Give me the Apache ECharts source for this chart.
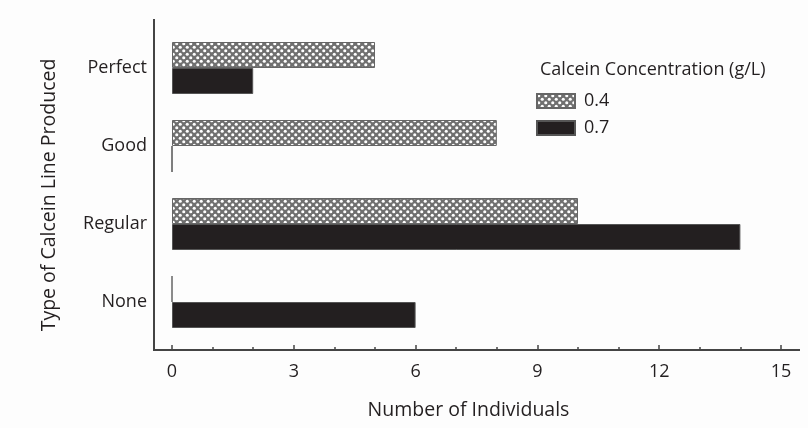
<!DOCTYPE html>
<html>
<head>
<meta charset="utf-8">
<script src="https://cdn.jsdelivr.net/npm/echarts@6/dist/echarts.min.js"></script>
<style>
html,body{margin:0;padding:0;background:#fdfdfd;}
#chart{width:808px;height:428px;}
</style>
</head>
<body>
<div id="chart"></div>
<script>
const categories = ['Perfect', 'Good', 'Regular', 'None'];
const seriesNames = ['0.4', '0.7'];
const values04 = [5, 8, 10, 0];
const values07 = [2, 0, 14, 6];
const xTicks = [0, 3, 6, 9, 12, 15];
const yTitle = 'Type of Calcein Line Produced';

function makePattern() {
  const c = document.createElement('canvas');
  c.width = 7; c.height = 7;
  const g = c.getContext('2d');
  g.fillStyle = '#707070';
  g.fillRect(0, 0, 7, 7);
  g.fillStyle = '#ffffff';
  const pts = [[1.75, 1.75], [5.25, 5.25]];
  pts.forEach(p => { g.beginPath(); g.arc(p[0], p[1], 1.55, 0, Math.PI * 2); g.fill(); });
  return c;
}
const pattern = { image: makePattern(), repeat: 'repeat' };

const font = "'Open Sans', 'Noto Sans', sans-serif";
const txt = '#231f20';

const chart = echarts.init(document.getElementById('chart'));
chart.setOption({
  backgroundColor: '#fdfdfd',
  animation: false,
  textStyle: { fontFamily: font, color: txt },
  title: {
    text: 'Calcein Concentration (g/L)',
    left: 535, top: 56,
    textStyle: { fontFamily: font, fontSize: 18, fontWeight: 'normal', color: txt }
  },
  legend: {
    orient: 'vertical',
    left: 531, top: 87,
    icon: 'rect',
    itemWidth: 38, itemHeight: 14, itemGap: 9,
    data: seriesNames,
    textStyle: { fontFamily: font, fontSize: 18, color: txt, padding: [0, 0, 0, 4] }
  },
  grid: { left: 172, right: 27, top: 29, bottom: 87, containLabel: false },
  xAxis: {
    type: 'value', min: xTicks[0], max: xTicks[xTicks.length - 1], interval: 3,
    offset: 9,
    name: 'Number of Individuals', nameLocation: 'middle', nameGap: 50,
    nameTextStyle: { fontFamily: font, fontSize: 19.5, color: txt, padding: [0, 16, 0, 0] },
    axisLine: { show: false },
    axisTick: { show: true, inside: true, length: 5, lineStyle: { color: '#444', width: 1.5 } },
    minorTick: { show: true, splitNumber: 3, length: 3, lineStyle: { color: '#444', width: 1.5 } },
    splitLine: { show: false },
    axisLabel: { fontFamily: font, fontSize: 18, color: txt, margin: 13 }
  },
  yAxis: {
    type: 'category', data: categories, inverse: true,
    axisLine: { show: false },
    axisTick: { show: false },
    axisLabel: { fontFamily: font, fontSize: 18, color: txt, margin: 25 }
  },
  graphic: [
    { type: 'line', shape: { x1: 154, y1: 19, x2: 154, y2: 351 }, style: { stroke: '#444', lineWidth: 2 } },
    { type: 'line', shape: { x1: 153, y1: 350, x2: 800, y2: 350 }, style: { stroke: '#444', lineWidth: 2 } },
    { type: 'text', x: 49, y: 195, rotation: Math.PI / 2,
      style: { text: yTitle, align: 'center', verticalAlign: 'middle', fill: txt,
               font: "19.5px 'Open Sans', 'Noto Sans', sans-serif" } }
  ],
  series: [
    {
      name: seriesNames[0], type: 'bar', data: values04,
      barWidth: 26, barGap: '0%',
      itemStyle: { color: pattern, borderColor: '#666', borderWidth: 1 }
    },
    {
      name: seriesNames[1], type: 'bar', data: values07,
      barWidth: 26, barGap: '0%',
      itemStyle: { color: '#231f20', borderColor: '#555', borderWidth: 1 }
    }
  ]
});
</script>
</body>
</html>
